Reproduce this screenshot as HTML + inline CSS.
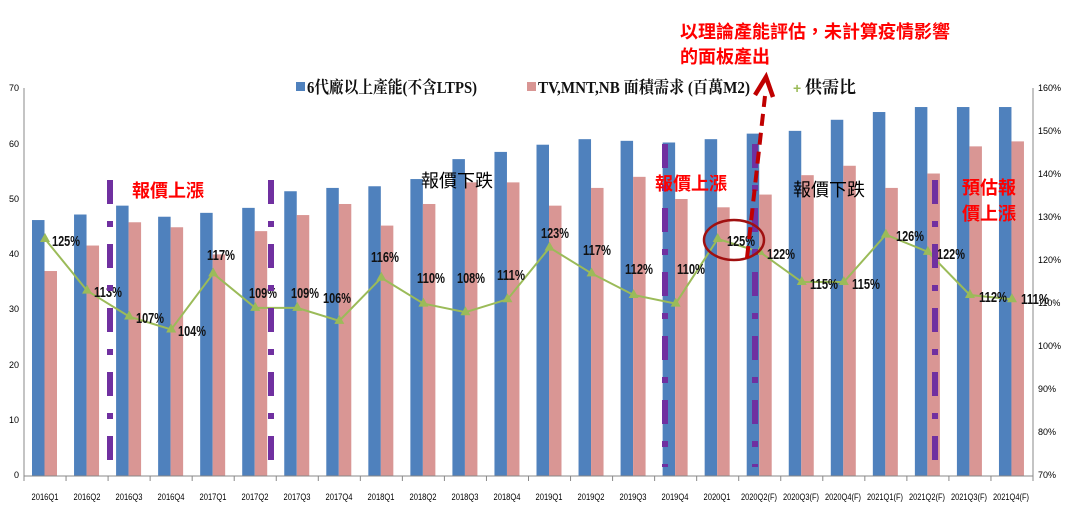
<!DOCTYPE html>
<html><head><meta charset="utf-8"><style>
html,body{margin:0;padding:0;background:#fff;}
svg{display:block;}
.t{font-family:"Liberation Sans",sans-serif;font-size:9px;fill:#000;}
.p{font-family:"Liberation Sans Narrow","Liberation Sans",sans-serif;font-size:15px;font-weight:bold;fill:#111;}
.r{font-family:"Liberation Sans","Noto Sans CJK TC",sans-serif;font-size:18px;font-weight:bold;fill:#ff0000;}
.b{font-family:"Liberation Sans","Noto Sans CJK TC",sans-serif;font-size:18px;fill:#000;}
.lg{font-family:"Liberation Serif","Noto Serif CJK SC",serif;font-size:17px;font-weight:bold;fill:#111;}
</style></head><body>
<svg id="c" width="1069" height="517" xmlns="http://www.w3.org/2000/svg">
<g id="bars"></g>
<line x1="24" y1="88" x2="24" y2="476" stroke="#888" stroke-width="1"/>
<line x1="1033" y1="88" x2="1033" y2="476" stroke="#888" stroke-width="1"/>
<line x1="24" y1="476" x2="1033" y2="476" stroke="#888" stroke-width="1"/>
<g id="ticks" stroke="#888" stroke-width="1"></g>
<g class="t" text-anchor="end">
<text x="19" y="478">0</text><text x="19" y="423">10</text><text x="19" y="368">20</text><text x="19" y="312">30</text><text x="19" y="257">40</text><text x="19" y="202">50</text><text x="19" y="147">60</text><text x="19" y="91">70</text>
</g>
<g class="t" text-anchor="start" font-size="8">
<text x="1038" y="478">70%</text><text x="1038" y="435">80%</text><text x="1038" y="392">90%</text><text x="1038" y="349">100%</text><text x="1038" y="306">110%</text><text x="1038" y="263">120%</text><text x="1038" y="220">130%</text><text x="1038" y="177">140%</text><text x="1038" y="134">150%</text><text x="1038" y="91">160%</text>
</g>
<g class="t cat" text-anchor="middle" font-size="9">
<text x="45" y="500">2016Q1</text><text x="87" y="500">2016Q2</text><text x="129" y="500">2016Q3</text><text x="171" y="500">2016Q4</text><text x="213" y="500">2017Q1</text><text x="255" y="500">2017Q2</text><text x="297" y="500">2017Q3</text><text x="339" y="500">2017Q4</text><text x="381" y="500">2018Q1</text><text x="423" y="500">2018Q2</text><text x="465" y="500">2018Q3</text><text x="507" y="500">2018Q4</text><text x="549" y="500">2019Q1</text><text x="591" y="500">2019Q2</text><text x="633" y="500">2019Q3</text><text x="675" y="500">2019Q4</text><text x="717" y="500">2020Q1</text><text x="759" y="500">2020Q2(F)</text><text x="801" y="500">2020Q3(F)</text><text x="843" y="500">2020Q4(F)</text><text x="885" y="500">2021Q1(F)</text><text x="927" y="500">2021Q2(F)</text><text x="969" y="500">2021Q3(F)</text><text x="1011" y="500">2021Q4(F)</text>
</g>
<g id="line"></g>
<g class="p">
<text x="52" y="246">125%</text><text x="94" y="297">113%</text><text x="136" y="323">107%</text><text x="178" y="336">104%</text><text x="207" y="260">117%</text><text x="249" y="298">109%</text><text x="291" y="298">109%</text><text x="323" y="303">106%</text><text x="371" y="262">116%</text><text x="417" y="283">110%</text><text x="457" y="283">108%</text><text x="497" y="280">111%</text><text x="541" y="238">123%</text><text x="583" y="255">117%</text><text x="625" y="274">112%</text><text x="677" y="274">110%</text><text x="727" y="246">125%</text><text x="767" y="259">122%</text><text x="810" y="289">115%</text><text x="852" y="289">115%</text><text x="896" y="241">126%</text><text x="937" y="259">122%</text><text x="979" y="302">112%</text><text x="1021" y="304">111%</text>
</g>
<g stroke="#7030a0" stroke-width="6" stroke-dasharray="24 17 6 17">
<line x1="110" y1="180" x2="110" y2="467"/>
<line x1="271" y1="180" x2="271" y2="467"/>
<line x1="665" y1="144" x2="665" y2="467"/>
<line x1="755" y1="144" x2="755" y2="467"/>
<line x1="935" y1="180" x2="935" y2="467"/>
</g>
<text class="r" x="132" y="197">報價上漲</text>
<text class="b" x="421" y="187">報價下跌</text>
<text class="r" x="655" y="190">報價上漲</text>
<text class="b" x="793" y="196">報價下跌</text>
<text class="r" x="962" y="194">預估報</text>
<text class="r" x="962" y="220">價上漲</text>
<text class="r" x="680" y="38">以理論產能評估，未計算疫情影響</text>
<text class="r" x="680" y="63">的面板產出</text>
<ellipse cx="734" cy="240" rx="30" ry="20" fill="none" stroke="#a01010" stroke-width="2.5"/>
<line x1="747" y1="258" x2="765" y2="96" stroke="#c00000" stroke-width="4" stroke-dasharray="12 7"/>
<polyline points="755,95 766,77 773,97" fill="none" stroke="#c00000" stroke-width="4.5"/>
<rect x="296" y="82" width="9" height="9" fill="#4f81bd"/>
<text class="lg" x="307" y="93" textLength="170" lengthAdjust="spacingAndGlyphs">6代廠以上產能(不含LTPS)</text>
<rect x="527" y="82" width="9" height="9" fill="#d99694"/>
<text class="lg" x="538" y="93" textLength="212" lengthAdjust="spacingAndGlyphs">TV,MNT,NB 面積需求 (百萬M2)</text>
<text x="793" y="93" font-size="14" fill="#9bbb59" font-family="Liberation Sans" font-weight="bold">+</text>
<text class="lg" x="805" y="93">供需比</text>
</svg>
<script>
var B=[46.2,47.2,48.8,46.8,47.5,48.4,51.4,52,52.3,53.6,57.2,58.5,59.8,60.8,60.5,60.2,60.8,61.8,62.3,64.3,65.7,66.6,66.6,66.6];
var P=[37,41.6,45.8,44.9,40,44.2,47.1,49.1,45.2,49.1,53,53,48.8,52,54,50,48.5,50.8,54.3,56,52,54.6,59.5,60.4];
var R=[125,113,107,104,117,109,109,106,116,110,108,111,123,117,112,110,125,122,115,115,126,122,112,111];
var w=(1033-24)/24,s='',t='',l='',pts=[];
function Y(v){return 476-v*5.54;}
function YR(r){return 476-(r-70)*4.31;}
for(var i=0;i<24;i++){var x=24+i*w;
s+='<rect x="'+(x+8)+'" y="'+Y(B[i])+'" width="12.5" height="'+(B[i]*5.54)+'" fill="#4f81bd"/>';
s+='<rect x="'+(x+20.5)+'" y="'+Y(P[i])+'" width="12.5" height="'+(P[i]*5.54)+'" fill="#d99694"/>';
t+='<line x1="'+(x+w)+'" y1="476" x2="'+(x+w)+'" y2="481"/>';
var cx=x+w/2,cy=YR(R[i]);pts.push(cx+','+cy);
l+='<polygon points="'+cx+','+(cy-6)+' '+(cx-5)+','+(cy+3)+' '+(cx+5)+','+(cy+3)+'" fill="#9bbb59"/>';}
document.getElementById('bars').innerHTML=s;
document.getElementById('ticks').innerHTML=t+'<line x1="24" y1="476" x2="24" y2="481"/>';
document.getElementById('line').innerHTML='<polyline points="'+pts.join(' ')+'" fill="none" stroke="#9bbb59" stroke-width="2"/>'+l;
document.querySelectorAll('.p text').forEach(function(e){e.setAttribute('textLength','28');e.setAttribute('lengthAdjust','spacingAndGlyphs');});
document.querySelectorAll('.cat text').forEach(function(e){e.setAttribute('textLength',e.textContent.length>6?'36':'27');e.setAttribute('lengthAdjust','spacingAndGlyphs');});
</script>
</body></html>
